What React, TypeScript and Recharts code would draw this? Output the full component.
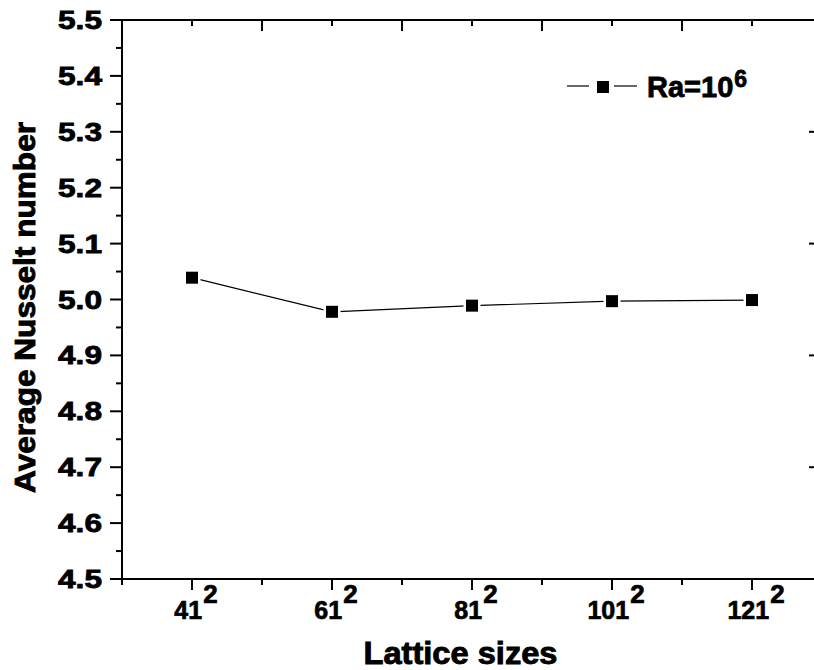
import { Legend, Line, LineChart, XAxis, YAxis } from "recharts";

const latticeSizes = [41, 61, 81, 101, 121];
const avgNusselt = [5.039, 4.978, 4.989, 4.997, 4.999];
const seriesName = "Ra=10";
const seriesExponent = "6";

const xMajorTicks = [41, 61, 81, 101, 121];
const bottomTicks = [31, 41, 51, 61, 71, 81, 91, 101, 111, 121];
const topMajorTicks = [51, 71, 91, 111];
const topTicks = [41, 51, 61, 71, 81, 91, 101, 111, 121];
const yTicks = [
  4.5, 4.55, 4.6, 4.65, 4.7, 4.75, 4.8, 4.85, 4.9, 4.95, 5.0, 5.05, 5.1,
  5.15, 5.2, 5.25, 5.3, 5.35, 5.4, 5.45, 5.5,
];
const rightTicks = [4.7, 4.9, 5.1, 5.3];

const data = latticeSizes.map((size, i) => ({ size, nu: avgNusselt[i] }));

const FONT = '"Liberation Sans", Arial, Helvetica, sans-serif';
const axisStroke = { stroke: "#000", strokeWidth: 2 };

function BottomTick({ x, y, payload }: any) {
  const v = payload.value;
  const major = xMajorTicks.includes(v);
  return (
    <g>
      <line x1={x} x2={x} y1={y} y2={y + (major ? 11 : 6)} stroke="#000" strokeWidth={2} />
      {major && (
        <text
          x={x + 4}
          y={y + 40}
          textAnchor="middle"
          fontFamily={FONT}
          fontWeight="bold"
          fontSize={25}
          fill="#000"
          stroke="#000"
          strokeWidth={0.7}
        >
          {String(v)}
          <tspan dx={1} dy={-16} fontSize={26}>
            2
          </tspan>
        </text>
      )}
    </g>
  );
}

function TopTick({ x, y, payload }: any) {
  const major = topMajorTicks.includes(payload.value);
  return <line x1={x} x2={x} y1={y} y2={y + (major ? 11 : 6)} stroke="#000" strokeWidth={2} />;
}

function LeftTick({ x, y, payload }: any) {
  const v = payload.value;
  const major = Math.abs(v * 10 - Math.round(v * 10)) < 1e-6;
  return (
    <g>
      <line x1={x - (major ? 12 : 6)} x2={x} y1={y} y2={y} stroke="#000" strokeWidth={2} />
      {major && (
        <text
          x={x - 20}
          y={y + 9}
          textAnchor="end"
          fontFamily={FONT}
          fontWeight="bold"
          fontSize={25}
          textLength={44}
          lengthAdjust="spacingAndGlyphs"
          fill="#000"
          stroke="#000"
          strokeWidth={0.8}
        >
          {v.toFixed(1)}
        </text>
      )}
    </g>
  );
}

function RightTick({ x, y }: any) {
  return <line x1={x - 6} x2={x} y1={y} y2={y} stroke="#000" strokeWidth={2} />;
}

function SquareDot({ cx, cy }: any) {
  if (cx == null || cy == null) return null;
  return (
    <g>
      <rect x={cx - 8.5} y={cy - 8.5} width={17} height={17} fill="#fff" />
      <rect x={cx - 6} y={cy - 6} width={12} height={12} fill="#000" />
    </g>
  );
}

function XTitle(props: any) {
  const vb = props.viewBox ?? { x: 122, y: 579, width: 693, height: 91 };
  return (
    <text
      x={vb.x + vb.width / 2 - 8}
      y={vb.y + 85}
      textAnchor="middle"
      fontFamily={FONT}
      fontWeight="bold"
      fontSize={31}
      textLength={194}
      lengthAdjust="spacingAndGlyphs"
      fill="#000"
      stroke="#000"
      strokeWidth={0.9}
    >
      Lattice sizes
    </text>
  );
}

function YTitle(props: any) {
  const vb = props.viewBox ?? { x: 0, y: 20, width: 122, height: 559 };
  const cy = vb.y + vb.height / 2 + 8;
  return (
    <text
      transform={`translate(35, ${cy}) rotate(-90)`}
      x={0}
      y={0}
      textAnchor="middle"
      fontFamily={FONT}
      fontWeight="bold"
      fontSize={29}
      textLength={371}
      lengthAdjust="spacingAndGlyphs"
      fill="#000"
      stroke="#000"
      strokeWidth={0.9}
    >
      Average Nusselt number
    </text>
  );
}

function LegendBox() {
  return (
    <svg width={220} height={45} style={{ display: "block" }}>
      <line x1={12} x2={34} y1={26} y2={26} stroke="#000" strokeWidth={1.2} />
      <rect x={42} y={21} width={12} height={12} fill="#000" />
      <line x1={59} x2={82} y1={26} y2={26} stroke="#000" strokeWidth={1.2} />
      <text
        x={92}
        y={37}
        fontFamily={FONT}
        fontWeight="bold"
        fontSize={29}
        fill="#000"
        stroke="#000"
        strokeWidth={0.8}
      >
        {seriesName}
        <tspan dx={1} dy={-10} fontSize={23}>
          {seriesExponent}
        </tspan>
      </text>
    </svg>
  );
}

export default function App() {
  return (
    <div
      style={{
        position: "absolute",
        left: 0,
        top: 0,
        width: 814,
        height: 670,
        overflow: "hidden",
        background: "#fff",
      }}
    >
      <LineChart width={830} height={670} data={data} margin={{ top: 0, right: 0, bottom: 0, left: 0 }}>
        <XAxis
          dataKey="size"
          type="number"
          domain={[31, 130]}
          ticks={bottomTicks}
          interval={0}
          allowDataOverflow
          height={91}
          axisLine={axisStroke}
          tickLine={false}
          tickSize={0}
          tickMargin={0}
          tick={BottomTick}
          label={<XTitle />}
        />
        <XAxis
          xAxisId="top"
          orientation="top"
          dataKey="size"
          type="number"
          domain={[31, 130]}
          ticks={topTicks}
          interval={0}
          allowDataOverflow
          height={20}
          axisLine={axisStroke}
          tickLine={false}
          tickSize={0}
          tickMargin={0}
          tick={TopTick}
        />
        <YAxis
          type="number"
          domain={[4.5, 5.5]}
          ticks={yTicks}
          interval={0}
          allowDataOverflow
          width={122}
          axisLine={axisStroke}
          tickLine={false}
          tickSize={0}
          tickMargin={0}
          tick={LeftTick}
          label={<YTitle />}
        />
        <YAxis
          yAxisId="right"
          orientation="right"
          type="number"
          domain={[4.5, 5.5]}
          ticks={rightTicks}
          interval={0}
          allowDataOverflow
          width={15}
          axisLine={false}
          tickLine={false}
          tickSize={0}
          tickMargin={0}
          tick={RightTick}
        />
        <Legend
          layout="horizontal"
          verticalAlign="middle"
          content={() => <LegendBox />}
          wrapperStyle={{ left: 555, top: 60, width: 220, height: 45 }}
        />
        <Line
          type="linear"
          dataKey="nu"
          name="Ra=10^6"
          stroke="#000"
          strokeWidth={1.2}
          dot={SquareDot}
          activeDot={false}
          isAnimationActive={false}
        />
      </LineChart>
    </div>
  );
}
